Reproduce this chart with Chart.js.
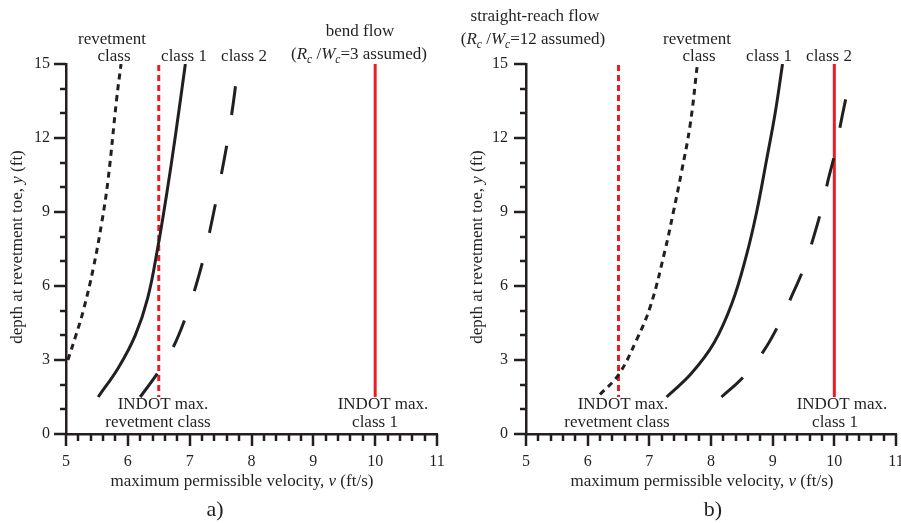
<!DOCTYPE html>
<html>
<head>
<meta charset="utf-8">
<script src="https://cdn.jsdelivr.net/npm/chart.js@4.4.1/dist/chart.umd.min.js"></script>
<style>
  html, body { margin: 0; padding: 0; background: #fff; }
  #wrap { position: relative; width: 901px; height: 523px; overflow: hidden; }
  canvas { position: absolute; top: 0; }
</style>
</head>
<body>
<div id="wrap">
  <canvas id="chartA" width="450" height="523" style="left:0"></canvas>
  <canvas id="chartB" width="451" height="523" style="left:450px"></canvas>
</div>
<script>
// panel a) bend flow
const revA_v = [5.03, 5.16, 5.28, 5.44, 5.58, 5.68, 5.82, 5.89];
const revA_y = [3.0, 4.0, 5.0, 6.7, 8.6, 10.3, 13.6, 15.0];
const c1A_v = [5.52, 5.85, 6.12, 6.32, 6.48, 6.62, 6.77, 6.93];
const c1A_y = [1.5, 2.7, 4.0, 5.5, 7.5, 9.6, 12.1, 15.0];
const c2A_v = [6.20, 6.49, 6.73, 6.93, 7.10, 7.26, 7.39, 7.51, 7.62, 7.71, 7.76];
const c2A_y = [1.5, 2.5, 3.5, 4.7, 6.0, 7.5, 9.0, 10.5, 12.0, 13.5, 14.5];

// panel b) straight-reach flow
const revB_v = [6.20, 6.50, 6.79, 7.02, 7.25, 7.39, 7.52, 7.66, 7.78];
const revB_y = [1.6, 2.4, 3.8, 5.2, 7.4, 9.0, 10.6, 12.5, 15.0];
const c1B_v = [7.28, 7.68, 8.05, 8.34, 8.57, 8.74, 8.90, 9.04, 9.16];
const c1B_y = [1.5, 2.45, 3.7, 5.3, 7.2, 9.0, 11.1, 13.0, 15.0];
const c2B_v = [8.17, 8.52, 8.85, 9.09, 9.31, 9.50, 9.66, 9.79, 9.90, 10.01, 10.12, 10.22];
const c2B_y = [1.5, 2.3, 3.35, 4.4, 5.6, 6.7, 7.95, 9.1, 10.3, 11.4, 12.8, 14.0];

// INDOT limits (same in both panels)
const indotRev_v = [6.5, 6.5];
const indotC1_v = [10, 10];
const indot_y = [1.5, 15];

const xRange = [5, 11];
const yRange = [0, 15];

const INK = '#231f20';
const RED = '#ed1c24';
const SERIF = '"Liberation Serif", "Times New Roman", serif';

function pts(vs, ys) {
  return vs.map((v, i) => ({ x: v, y: ys[i] }));
}

function curve(vs, ys, color, dash, smooth, offset) {
  return {
    data: pts(vs, ys),
    showLine: true,
    borderColor: color,
    borderWidth: 3,
    borderDash: dash,
    borderDashOffset: offset || 0,
    borderCapStyle: 'butt',
    pointRadius: 0,
    tension: smooth ? 0.4 : 0
  };
}

// draw text made of plain / italic / subscript pieces, centred on (cx, cy)
function drawRich(ctx, parts, cx, cy, size) {
  const items = parts.map(p => typeof p === 'string' ? { t: p } : p);
  const fontOf = p => (p.i ? 'italic ' : '') + (p.sub ? size * 0.68 : size) + 'px ' + SERIF;
  let total = 0;
  items.forEach(p => { ctx.font = fontOf(p); p.w = ctx.measureText(p.t).width; total += p.w; });
  let x = cx - total / 2;
  ctx.textAlign = 'left';
  ctx.textBaseline = 'middle';
  items.forEach(p => {
    ctx.font = fontOf(p);
    ctx.fillText(p.t, x, cy + (p.sub ? size * 0.3 : 0));
    x += p.w;
  });
}

const decor = {
  id: 'decor',
  afterDraw(chart, args, opts) {
    const { ctx, chartArea, scales: { x, y } } = chart;
    ctx.save();
    // tick marks, pointing outwards
    ctx.strokeStyle = INK;
    ctx.lineWidth = 2.5;
    ctx.beginPath();
    for (let i = 0; i <= 30; i++) {
      const px = Math.round(x.getPixelForValue(xRange[0] + i * 0.2));
      const len = i % 5 === 0 ? 12 : 7;
      ctx.moveTo(px, chartArea.bottom);
      ctx.lineTo(px, chartArea.bottom + len);
    }
    for (let d = yRange[0]; d <= yRange[1]; d++) {
      const py = Math.round(y.getPixelForValue(d));
      const len = d % 3 === 0 ? 12 : 6;
      ctx.moveTo(chartArea.left, py);
      ctx.lineTo(chartArea.left - len, py);
    }
    ctx.stroke();

    ctx.fillStyle = INK;
    (opts.notes || []).forEach(n => drawRich(ctx, n.parts, n.x, n.y, n.size || 17));

    // axis titles
    const xt = opts.xTitle;
    drawRich(ctx, ['maximum permissible velocity, ', { t: 'v', i: true }, ' (ft/s)'], xt[0], xt[1], 17);
    const yt = opts.yTitle;
    ctx.translate(yt[0], yt[1]);
    ctx.rotate(-Math.PI / 2);
    drawRich(ctx, ['depth at revetment toe, ', { t: 'y', i: true }, ' (ft)'], 0, 0, 17);
    ctx.restore();
  }
};

function makeChart(id, sets, layout) {
  const datasets = [
    curve(sets.rev[0], sets.rev[1], INK, [6, 5], true),
    curve(sets.c1[0], sets.c1[1], INK, [], true),
    curve(sets.c2[0], sets.c2[1], INK, [29, 31], true),
    curve(indotRev_v, indot_y, RED, [6, 4], false, 4),
    curve(indotC1_v, indot_y, RED, [], false)
  ];
  const tickFont = { family: SERIF, size: 16 };
  return new Chart(document.getElementById(id), {
    type: 'scatter',
    data: { datasets: datasets },
    options: {
      responsive: false,
      animation: false,
      devicePixelRatio: 1,
      layout: { padding: { top: 64, right: layout.right, left: 0, bottom: 0 } },
      plugins: {
        legend: { display: false },
        tooltip: { enabled: false },
        decor: { notes: layout.notes, xTitle: layout.xTitle, yTitle: layout.yTitle }
      },
      scales: {
        x: {
          type: 'linear', min: xRange[0], max: xRange[1],
          grid: { display: true, drawOnChartArea: false, drawTicks: false },
          border: { display: true, color: INK, width: 2.5 },
          ticks: { stepSize: 1, color: INK, font: tickFont, padding: 18, maxRotation: 0 },
          afterFit(s) { s.height = 523 - 434; s.paddingLeft = 0; s.paddingRight = 0; }
        },
        y: {
          type: 'linear', min: yRange[0], max: yRange[1],
          grid: { display: true, drawOnChartArea: false, drawTicks: false },
          border: { display: true, color: INK, width: 2.5 },
          ticks: { stepSize: 3, color: INK, font: tickFont, padding: layout.yPad },
          afterFit(s) { s.width = layout.left; s.paddingTop = 0; s.paddingBottom = 0; }
        }
      }
    },
    plugins: [decor]
  });
}

const Rc = [{ t: 'R', i: true }, { t: 'c', i: true, sub: true }, ' /', { t: 'W', i: true }, { t: 'c', i: true, sub: true }];

makeChart('chartA',
  { rev: [revA_v, revA_y], c1: [c1A_v, c1A_y], c2: [c2A_v, c2A_y] },
  {
    left: 66, right: 13, yPad: 16,
    xTitle: [242, 482], yTitle: [18, 247],
    notes: [
      { parts: ['revetment'], x: 112, y: 40 },
      { parts: ['class'], x: 114, y: 57 },
      { parts: ['class 1'], x: 184, y: 57 },
      { parts: ['class 2'], x: 244, y: 57 },
      { parts: ['bend flow'], x: 360, y: 32 },
      { parts: ['('].concat(Rc, ['=3 assumed)']), x: 359, y: 55 },
      { parts: ['INDOT max.'], x: 163, y: 405 },
      { parts: ['revetment class'], x: 158, y: 423 },
      { parts: ['INDOT max.'], x: 383, y: 405 },
      { parts: ['class 1'], x: 375, y: 423 },
      { parts: ['a)'], x: 215, y: 510, size: 22 }
    ]
  });

makeChart('chartB',
  { rev: [revB_v, revB_y], c1: [c1B_v, c1B_y], c2: [c2B_v, c2B_y] },
  {
    left: 76, right: 5, yPad: 18,
    xTitle: [252, 482], yTitle: [28, 247],
    notes: [
      { parts: ['straight-reach flow'], x: 85, y: 17 },
      { parts: ['('].concat(Rc, ['=12 assumed)']), x: 83, y: 40 },
      { parts: ['revetment'], x: 247, y: 40 },
      { parts: ['class'], x: 249, y: 57 },
      { parts: ['class 1'], x: 319, y: 57 },
      { parts: ['class 2'], x: 379, y: 57 },
      { parts: ['INDOT max.'], x: 173, y: 405 },
      { parts: ['revetment class'], x: 167, y: 423 },
      { parts: ['INDOT max.'], x: 392, y: 405 },
      { parts: ['class 1'], x: 385, y: 423 },
      { parts: ['b)'], x: 263, y: 510, size: 22 }
    ]
  });
</script>
</body>
</html>
